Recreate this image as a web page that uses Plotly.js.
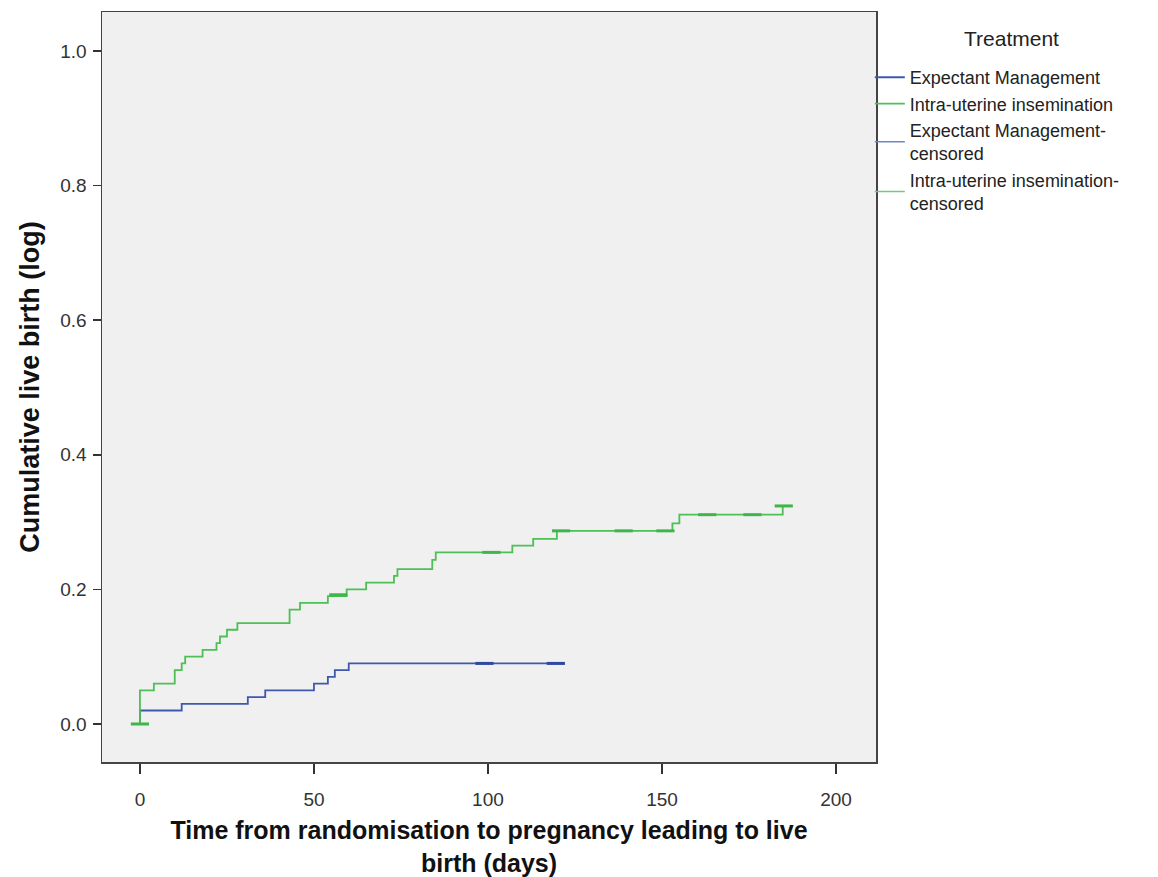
<!DOCTYPE html>
<html>
<head>
<meta charset="utf-8">
<script src="https://cdn.plot.ly/plotly-3.0.1.min.js"></script>
<style>html,body{margin:0;padding:0;background:#fff;}#chart{width:1158px;height:877px;}</style>
</head>
<body>
<div id="chart"></div>
<script>
// Kaplan-Meier style cumulative live birth
var legendTitle = "Treatment";
var seriesNames = ["Expectant Management", "Intra-uterine insemination",
  "Expectant Management-<br>censored", "Intra-uterine insemination-<br>censored"];

var emDays  = [0, 0, 12, 31, 36, 50, 54, 56, 60, 122];
var emCum   = [0, 0.02, 0.03, 0.04, 0.05, 0.06, 0.07, 0.08, 0.09, 0.09];

var iuiDays = [-2, 0, 4, 10, 12, 13, 18, 22, 23, 25, 28, 43, 46, 54, 59.4, 65, 73, 74, 84, 85, 107, 113, 119.8, 153, 155, 184.7, 185.5];
var iuiCum  = [0, 0.05, 0.06, 0.08, 0.09, 0.10, 0.11, 0.12, 0.13, 0.14, 0.15, 0.17, 0.18, 0.19, 0.20, 0.21, 0.22, 0.23, 0.244, 0.255, 0.265, 0.275, 0.287, 0.298, 0.311, 0.324, 0.324];

var emCensDays  = [99, 119.5];
var emCensCum   = [0.09, 0.09];
var iuiCensDays = [0, 57, 101, 121, 139, 151, 163, 176, 185];
var iuiCensCum  = [0, 0.192, 0.255, 0.287, 0.287, 0.287, 0.311, 0.311, 0.324];

var xTicks = [0, 50, 100, 150, 200];
var yTicks = [0, 0.2, 0.4, 0.6, 0.8, 1.0];
var yTickText = ["0.0", "0.2", "0.4", "0.6", "0.8", "1.0"];

var blue = "#3e58ac", green = "#4cbf55";

var traces = [
  {x: emDays, y: emCum, name: seriesNames[0], mode: "lines",
   line: {color: blue, width: 1.8, shape: "hv"}},
  {x: iuiDays, y: iuiCum, name: seriesNames[1], mode: "lines",
   line: {color: green, width: 1.8, shape: "hv"}},
  {x: emCensDays, y: emCensCum, name: seriesNames[2], mode: "markers", showlegend: false,
   legendgroup: "emc",
   marker: {symbol: "line-ew", size: 13, color: blue, line: {color: "#2f48a0", width: 3}}},
  {x: iuiCensDays, y: iuiCensCum, name: seriesNames[3], mode: "markers", showlegend: false,
   legendgroup: "iuic",
   marker: {symbol: "line-ew", size: 13, color: green, line: {color: "#3fb64a", width: 3}}},
  // legend entries for the censored series (shown as plain lines, as in the reference)
  {x: [null], y: [null], name: seriesNames[2], mode: "lines", legendgroup: "emc",
   line: {color: "#6f85c8", width: 1.6}},
  {x: [null], y: [null], name: seriesNames[3], mode: "lines", legendgroup: "iuic",
   line: {color: "#6fcc76", width: 1.6}}
];

var fontFam = "Liberation Sans, Arial, sans-serif";
var layout = {
  width: 1158, height: 877,
  paper_bgcolor: "#ffffff", plot_bgcolor: "#f0f0f0",
  margin: {l: 102, r: 282, t: 12, b: 115},
  showlegend: true,
  font: {family: fontFam, color: "#222"},
  xaxis: {
    range: [-10.9, 211.5], tickvals: xTicks, ticktext: xTicks.map(String),
    ticks: "outside", ticklen: 10, tickwidth: 1.5, tickcolor: "#333",
    showline: true, linecolor: "#444", linewidth: 1.5, mirror: true,
    showgrid: false, zeroline: false, ticklabelstandoff: 10,
    tickfont: {size: 19, color: "#333"},
    title: {text: "<b>Time from randomisation to pregnancy leading to live<br>birth (days)</b>",
            font: {size: 25, color: "#111"}, standoff: 14}
  },
  yaxis: {
    range: [-0.0565, 1.058], tickvals: yTicks, ticktext: yTickText,
    ticks: "outside", ticklen: 8, tickwidth: 1.5, tickcolor: "#333",
    showline: true, linecolor: "#444", linewidth: 1.5, mirror: true,
    showgrid: false, zeroline: false, ticklabelstandoff: 2,
    tickfont: {size: 19, color: "#333"},
    title: {text: "<b>Cumulative live birth (log)</b>", font: {size: 27, color: "#111"}, standoff: 13}
  },
  legend: {
    x: 0.992, xanchor: "left", y: 0.9373, yanchor: "top",
    bgcolor: "rgba(0,0,0,0)", borderwidth: 0,
    font: {size: 18, color: "#222"},
    tracegroupgap: 0, itemwidth: 30
  },
  annotations: [{
    text: legendTitle, xref: "paper", yref: "paper", x: 1.1757, y: 0.9653,
    xanchor: "center", yanchor: "middle", showarrow: false,
    font: {size: 21, color: "#222"}
  }]
};

Plotly.newPlot("chart", traces, layout, {displayModeBar: false, staticPlot: true});
</script>
</body>
</html>
